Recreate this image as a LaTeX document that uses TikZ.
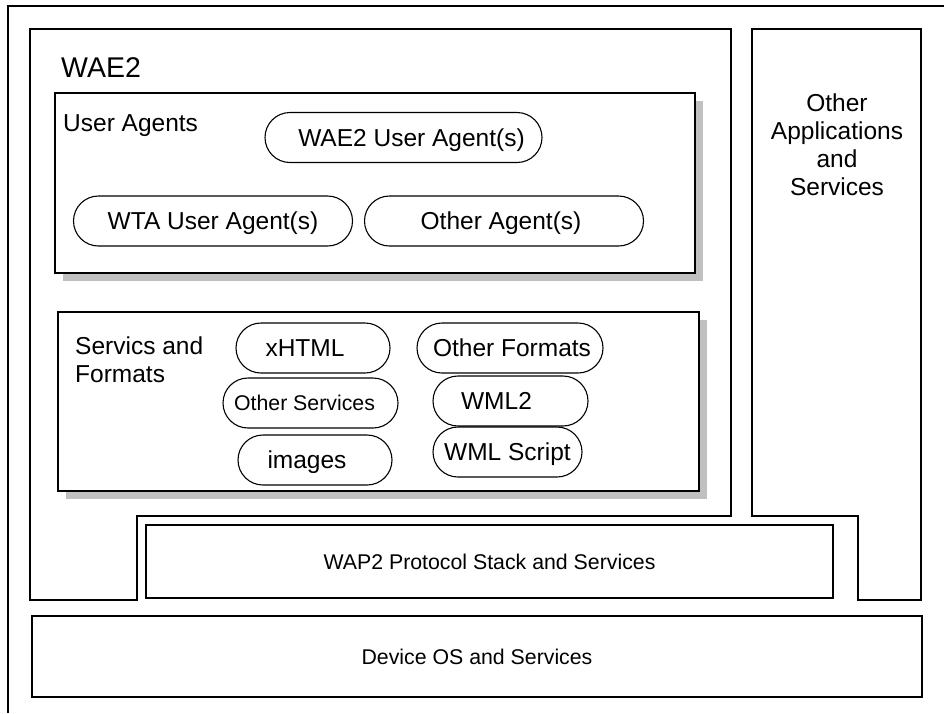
\documentclass[tikz,border=0pt]{standalone}
\usepackage{fontspec}
\setmainfont{Liberation Sans}
\usetikzlibrary{shadows}
\newcommand{\fsz}[1]{\fontsize{#1}{#1}\selectfont}
\definecolor{shade}{RGB}{192,192,192}
\tikzset{
  ln/.style={draw=black, line width=1.4pt, line join=miter},
  box/.style={draw=black, line width=1.4pt, fill=white, inner sep=0pt},
  shadowed/.style={drop shadow={shadow xshift=8pt, shadow yshift=-8pt, fill=shade, opacity=1}},
  pill/.style={draw=black, line width=1.1pt, fill=white, rounded corners=25pt,
    minimum height=50pt, inner sep=0pt, font=\fsz{24.5}, text height=17.5pt, text depth=0pt},
  boxtext/.style={font=\fsz{21.3}, text height=15.3pt, text depth=0pt},
}
\begin{document}
\begin{tikzpicture}[x=1pt,y=-1pt]
\useasboundingbox (0,0) rectangle (944,713);
\fill[white] (0,0) rectangle (944,713);
% outer frame
\draw[ln] (8,713) -- (8,6) -- (944,6);
% WAE2 area
\draw[ln] (30,29) -- (731,29) -- (731,516) -- (137,516) -- (137,600) -- (30,600) -- cycle;
\node[anchor=base west, font=\fsz{28.5}, inner sep=0pt] (wae2lbl) at (61,77) {WAE2};
% Other applications
\draw[ln] (752,29) -- (921,29) -- (921,600) -- (858,600) -- (858,516) -- (752,516) -- cycle;
\node[align=center, font=\fontsize{24.5}{28}\selectfont, inner sep=0pt] (oapps) at (837,145) {Other\\Applications\\and\\Services};
% User agents
\node[box, shadowed, minimum width=640pt, minimum height=180pt] (ua) at (375,183) {};
\node[anchor=base west, font=\fsz{24.5}, inner sep=0pt] (ualbl) at (63,131) {User Agents};
\node[pill, minimum width=277pt] (wae2ua) at (403.5,137.5) {\hspace*{16pt}WAE2 User Agent(s)};
\node[pill, minimum width=279pt] (wta) at (213,221) {WTA User Agent(s)};
\node[pill, minimum width=279pt] (otheragents) at (504,221) {\hspace*{-6pt}Other Agent(s)};
% Services and formats
\node[box, shadowed, minimum width=641pt, minimum height=179pt] (svc) at (378.5,401.5) {};
\node[anchor=north west, align=left, font=\fontsize{24.5}{28}\selectfont, inner sep=0pt] (svclbl) at (75,337) {Servics and\\Formats};
\node[pill, minimum width=154pt] (xhtml) at (313,348) {\hspace*{-16pt}xHTML};
\node[pill, minimum width=175pt, font=\fsz{21.3}, text height=15.3pt] (othsvc) at (310.5,403) {\hspace*{-12pt}Other Services};
\node[pill, minimum width=154pt] (images) at (315,460) {\hspace*{-16pt}images};
\node[pill, minimum width=186pt] (othfmt) at (510,348) {\hspace*{4pt}Other Formats};
\node[pill, minimum width=155pt] (wml2) at (510.5,401) {\hspace*{-28pt}WML2};
\node[pill, minimum width=149pt] (wmlscript) at (507.5,452) {WML Script};
% Protocol stack and device
\node[box, boxtext, minimum width=687pt, minimum height=73pt] (wap2) at (489.5,561.5) {WAP2 Protocol Stack and Services};
\node[box, boxtext, minimum width=890pt, minimum height=81pt] (device) at (477,656.5) {Device OS and Services};
\end{tikzpicture}
\end{document}
